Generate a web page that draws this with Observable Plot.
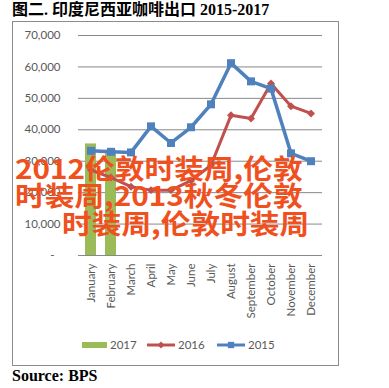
<!DOCTYPE html>
<html>
<head>
<meta charset="utf-8">
<script src="https://cdn.jsdelivr.net/npm/d3@7"></script>
<script src="https://cdn.jsdelivr.net/npm/@observablehq/plot@0.6"></script>
<style>
  html, body { margin: 0; padding: 0; background: #fff; }
  body { width: 389px; height: 388px; position: relative; overflow: hidden; }
  #title { position: absolute; left: 12px; top: 0px; font: bold 16px "Liberation Serif", "Noto Sans CJK SC", serif; color: #000; white-space: nowrap; line-height: 20px; }
  #frame { position: absolute; left: 12px; top: 21px; width: 325px; height: 343px; border: 1px solid #8c8c8c; }
  #chart { position: absolute; left: 0; top: 0; }
  #legend { position: absolute; left: 0; top: 330px; }
  #source { position: absolute; left: 12px; top: 366px; font: bold 16px "Liberation Serif", serif; color: #000; white-space: nowrap; line-height: 20px; }
  .wm { position: absolute; font: bold 27px "Noto Sans CJK SC", sans-serif; color: #F0501E; white-space: nowrap; line-height: 27px; transform: scaleX(1.1); transform-origin: 0 0; pointer-events: none; }
</style>
</head>
<body>
<div id="title">图二. 印度尼西亚咖啡出口 2015-2017</div>
<div id="frame"></div>
<div id="chart"></div>
<div id="legend"></div>
<div id="source">Source: BPS</div>
<div id="wm"></div>
<script>
const months = ["January","February","March","April","May","June","July","August","September","October","November","December"];
const months2017 = ["January","February"];
const values2017 = [35500, 33500];
const values2016 = [27200, 24800, 21900, 20800, 20800, 23800, 28700, 44600, 43600, 54700, 47500, 45200];
const values2015 = [33300, 33000, 32800, 41100, 35800, 40800, 48100, 61200, 55400, 53100, 32500, 30000];
const yTicks = [0, 10000, 20000, 30000, 40000, 50000, 60000, 70000];
const seriesNames = ["2017", "2016", "2015"];
const seriesColors = ["#9BBB59", "#C0504D", "#4F81BD"];
const watermarkLines = ["2012伦敦时装周,伦敦", "时装周,2013秋冬伦敦", "时装周,伦敦时装周"];

const d2017 = months2017.map((m, i) => ({month: m, value: values2017[i]}));
const d2016 = months.map((m, i) => ({month: m, value: values2016[i]}));
const d2015 = months.map((m, i) => ({month: m, value: values2015[i]}));

const chart = Plot.plot({
  width: 389,
  height: 330,
  marginLeft: 78,
  marginRight: 67,
  marginTop: 35,
  marginBottom: 75,
  style: {fontFamily: "Lato, sans-serif", fontSize: "11.5px", color: "#595959", background: "transparent", overflow: "visible"},
  x: {type: "band", domain: months, paddingInner: 0.46, paddingOuter: 0.23, label: null},
  y: {domain: [0, 70000], label: null},
  marks: [
    Plot.gridY(yTicks, {stroke: "#888888", strokeOpacity: 1, x1: null}),
    Plot.barY(d2017, {x: "month", y: "value", fill: seriesColors[0]}),
    Plot.line(d2016, {x: "month", y: "value", stroke: seriesColors[1], strokeWidth: 3}),
    Plot.dot(d2016, {x: "month", y: "value", fill: seriesColors[1], symbol: "diamond2", r: 3.6}),
    Plot.line(d2015, {x: "month", y: "value", stroke: seriesColors[2], strokeWidth: 3.5}),
    Plot.dot(d2015, {x: "month", y: "value", fill: seriesColors[2], symbol: "square", r: 4.5}),
    Plot.axisY(yTicks, {tickSize: 0, tickPadding: 18, tickFormat: d => d === 0 ? "-\u00a0\u00a0" : d3.format(",")(d)}),
    Plot.axisX({tickRotate: -90, tickSize: 0, tickPadding: 8, label: null})
  ]
});
document.getElementById("chart").appendChild(chart);

// legend
const ns = "http://www.w3.org/2000/svg";
const lg = d3.select("#legend").append("svg").attr("width", 389).attr("height", 30)
  .style("font-family", "Lato, sans-serif").style("font-size", "11.5px");
const cy = 15;
const starts = [82, 147, 217];
seriesNames.forEach((name, i) => {
  const x0 = starts[i];
  if (i === 0) {
    lg.append("rect").attr("x", x0).attr("y", cy - 3).attr("width", 25).attr("height", 6).attr("fill", seriesColors[i]);
  } else {
    lg.append("line").attr("x1", x0).attr("x2", x0 + 28).attr("y1", cy).attr("y2", cy)
      .attr("stroke", seriesColors[i]).attr("stroke-width", 3);
    const sym = i === 1 ? d3.symbolDiamond2 : d3.symbolSquare;
    const size = i === 1 ? 30 : 40;
    lg.append("path").attr("d", d3.symbol(sym, size)()).attr("transform", `translate(${x0 + 14},${cy})`).attr("fill", seriesColors[i]);
  }
  lg.append("text").attr("x", x0 + (i === 0 ? 28 : 31)).attr("y", cy + 4).attr("fill", "#595959").text(name);
});

// watermark overlay
const wmLeft = [15, 15, 62];
const wmTop = [154, 181, 209];
watermarkLines.forEach((t, i) => {
  const d = document.createElement("div");
  d.className = "wm";
  d.style.left = wmLeft[i] + "px";
  d.style.top = wmTop[i] + "px";
  d.textContent = t;
  document.getElementById("wm").appendChild(d);
});
</script>
</body>
</html>
